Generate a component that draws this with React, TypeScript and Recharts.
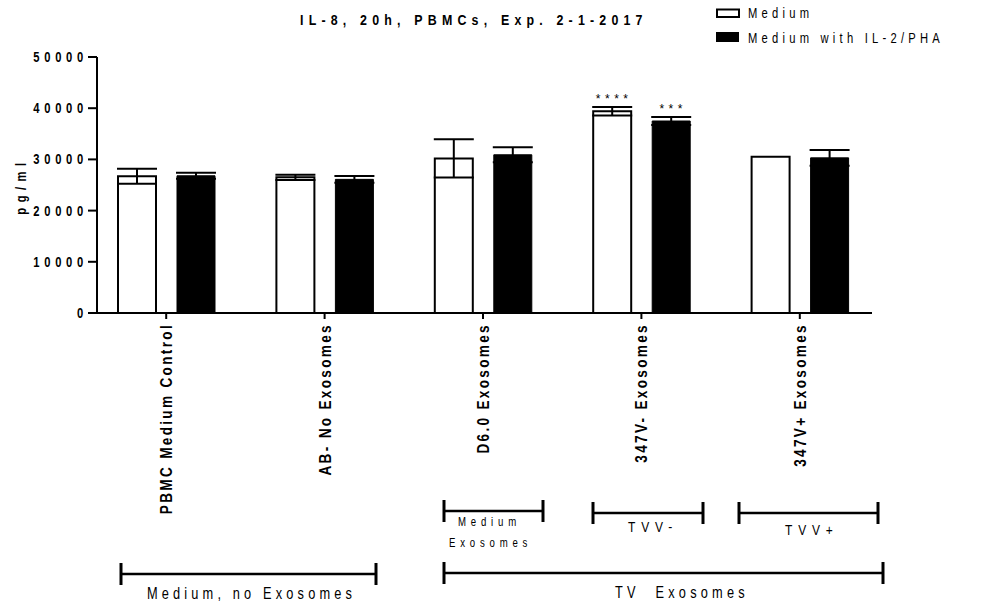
import { Bar, BarChart, ErrorBar, LabelList, Legend, XAxis, YAxis } from 'recharts';

const categories = [
  'PBMC Medium Control',
  'AB- No Exosomes',
  'D6.0 Exosomes',
  '347V- Exosomes',
  '347V+ Exosomes'
];
const mediumValues = [26700, 26500, 30200, 39400, 30500];
const mediumErrors = [1450, 500, 3750, 850, 0];
const il2Values = [26800, 26100, 30900, 37500, 30300];
const il2Errors = [600, 650, 1450, 800, 1550];
const mediumSig = ['', '', '', '****', ''];
const il2Sig = ['', '', '', '***', ''];
const yTicks = [0, 10000, 20000, 30000, 40000, 50000];
const seriesNames = ['Medium', 'Medium with IL-2/PHA'];

const FONT = '"Liberation Sans", Arial, sans-serif';
// the original graphic is squeezed horizontally, so text is condensed
const SQUEEZE = 0.8;

const data = categories.map((name, i) => ({
  name,
  medium: mediumValues[i],
  mediumErr: mediumErrors[i],
  mediumSig: mediumSig[i],
  il2: il2Values[i],
  il2Err: il2Errors[i],
  il2Sig: il2Sig[i]
}));

type STextProps = {
  x: number;
  y: number;
  size: number;
  spacing: number;
  rotate?: number;
  anchor?: 'start' | 'middle' | 'end';
  bold?: boolean;
  dy?: string;
  children: any;
};

function SText({ x, y, size, spacing, rotate = 0, anchor = 'start', bold, dy, children }: STextProps) {
  return (
    <text
      x={0}
      y={0}
      transform={`translate(${x} ${y}) rotate(${rotate}) scale(${SQUEEZE} 1)`}
      textAnchor={anchor}
      dy={dy}
      fontSize={size}
      fontWeight={bold ? 'bold' : 'normal'}
      fontFamily={FONT}
      fill="#000"
      style={{ letterSpacing: `${spacing}px`, whiteSpace: 'pre' }}
    >
      {children}
    </text>
  );
}

function XTick({ x, y, payload }: any) {
  return (
    <SText x={x} y={y + 2} rotate={-90} anchor="end" dy="0.35em" size={17} spacing={2.9} bold>
      {payload.value}
    </SText>
  );
}

function YTick({ x, y, payload }: any) {
  return (
    <SText x={x + 2} y={y} anchor="end" dy="0.36em" size={14} spacing={5.9} bold>
      {payload.value}
    </SText>
  );
}

function Stars({ x, y, width, value }: any) {
  if (!value) return null;
  return (
    <text
      x={x + width / 2 + 2}
      y={y - 8}
      textAnchor="middle"
      fontSize={12}
      fontFamily={FONT}
      fill="#000"
      style={{ letterSpacing: '4.5px' }}
    >
      {value}
    </text>
  );
}

function LegendBox() {
  return (
    <svg width={276} height={50}>
      <rect x={1} y={9.5} width={22} height={7.5} fill="#fff" stroke="#000" strokeWidth={2} />
      <SText x={32} y={17.5} size={14} spacing={5.3}>
        {seriesNames[0]}
      </SText>
      <rect x={0} y={32} width={23} height={10} fill="#000" />
      <SText x={32} y={42.5} size={14} spacing={5.3}>
        {seriesNames[1]}
      </SText>
    </svg>
  );
}

function Bracket({ x1, x2, y, h }: { x1: number; x2: number; y: number; h: number }) {
  return (
    <g stroke="#000">
      <line x1={x1} x2={x2} y1={y} y2={y} strokeWidth={2.5} />
      <line x1={x1} x2={x1} y1={y - h} y2={y + h} strokeWidth={3} />
      <line x1={x2} x2={x2} y1={y - h} y2={y + h} strokeWidth={3} />
    </g>
  );
}

function Annotations() {
  return (
    <svg
      width={992}
      height={607}
      style={{ position: 'absolute', left: 0, top: 0, pointerEvents: 'none' }}
    >
      <SText x={300} y={25} size={15.5} spacing={6.5} bold>
        IL-8, 20h, PBMCs, Exp. 2-1-2017
      </SText>
      <SText x={21} y={186} rotate={-90} anchor="middle" dy="0.35em" size={14} spacing={6.9} bold>
        pg/ml
      </SText>

      <Bracket x1={444} x2={543} y={511} h={11} />
      <SText x={458} y={526} size={12} spacing={6}>Medium</SText>
      <SText x={449} y={547} size={12} spacing={6}>Exosomes</SText>

      <Bracket x1={593} x2={703} y={513} h={11} />
      <SText x={628} y={532} size={15} spacing={7.3}>TVV-</SText>

      <Bracket x1={739} x2={878} y={513} h={11} />
      <SText x={785} y={535} size={15} spacing={7.3}>TVV+</SText>

      <Bracket x1={121} x2={376} y={574} h={11} />
      <SText x={147} y={599} size={16} spacing={5.2}>
        Medium, no Exosomes
      </SText>

      <Bracket x1={444} x2={883} y={573} h={11} />
      <SText x={615} y={598} size={16} spacing={5.3}>
        {'TV  Exosomes'}
      </SText>
    </svg>
  );
}

export default function App() {
  return (
    <div
      style={{
        position: 'absolute',
        left: 0,
        top: 0,
        width: 992,
        height: 607,
        background: '#fff',
        fontFamily: FONT
      }}
    >
      <BarChart
        width={992}
        height={607}
        data={data}
        margin={{ top: 57, right: 120, bottom: 94, left: 0 }}
        barSize={38}
        barGap={21}
      >
        <XAxis
          dataKey="name"
          height={200}
          interval={0}
          padding={{ left: -10, right: -7 }}
          axisLine={{ stroke: '#000', strokeWidth: 2 }}
          tickLine={{ stroke: '#000', strokeWidth: 2 }}
          tickSize={6}
          tick={<XTick />}
        />
        <YAxis
          width={97}
          domain={[0, 50000]}
          ticks={yTicks}
          interval={0}
          axisLine={{ stroke: '#000', strokeWidth: 2 }}
          tickLine={{ stroke: '#000', strokeWidth: 2 }}
          tickSize={9}
          tick={<YTick />}
        />
        <Legend
          layout="horizontal"
          verticalAlign="middle"
          align="center"
          wrapperStyle={{ position: 'absolute', left: 716, top: 0, width: 276, height: 50 }}
          content={() => <LegendBox />}
        />
        <Bar
          dataKey="medium"
          name={seriesNames[0]}
          fill="#fff"
          stroke="#000"
          strokeWidth={2}
          isAnimationActive={false}
        >
          <ErrorBar dataKey="mediumErr" width={20} stroke="#000" strokeWidth={2} direction="y" />
          <LabelList dataKey="mediumSig" content={<Stars />} />
        </Bar>
        <Bar
          dataKey="il2"
          name={seriesNames[1]}
          fill="#000"
          stroke="#000"
          strokeWidth={1}
          isAnimationActive={false}
        >
          <ErrorBar dataKey="il2Err" width={20} stroke="#000" strokeWidth={2} direction="y" />
          <LabelList dataKey="il2Sig" content={<Stars />} />
        </Bar>
      </BarChart>
      <Annotations />
    </div>
  );
}
